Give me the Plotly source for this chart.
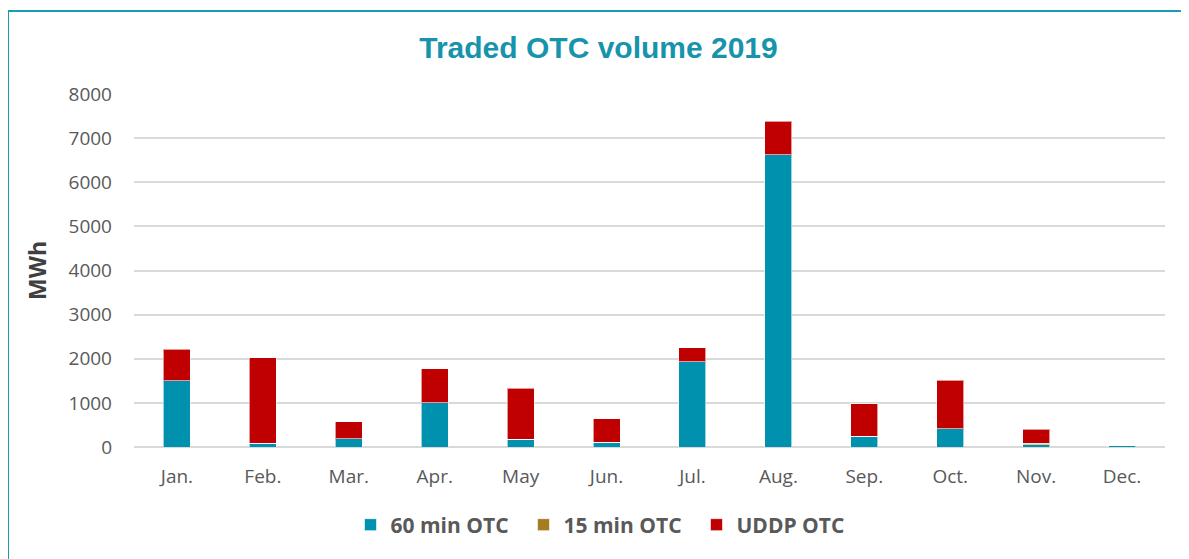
import plotly.graph_objects as go

months = ["Jan.", "Feb.", "Mar.", "Apr.", "May", "Jun.", "Jul.", "Aug.", "Sep.", "Oct.", "Nov.", "Dec."]
otc_60 = [1500, 90, 190, 1000, 175, 105, 1935, 6620, 240, 410, 50, 25]
otc_15 = [0, 0, 0, 0, 0, 0, 0, 0, 0, 0, 30, 0]
uddp = [720, 1930, 380, 770, 1155, 530, 310, 765, 740, 1100, 320, 0]

series = [
    ("60 min OTC", otc_60, "#0091AE"),
    ("15 min OTC", otc_15, "#A57C20"),
    ("UDDP OTC", uddp, "#C00000"),
]

fig = go.Figure()
for name, vals, col in series:
    fig.add_trace(go.Bar(
        x=months, y=vals, name=name,
        marker=dict(color=col, line=dict(color="rgba(255,255,255,0.6)", width=1)),
    ))

# page is offset 8px by the body margin; work in figure pixel coords
OFF = 8
W, H = 1189 - OFF, 559 - OFF
L, R, T, B = 134 - OFF, 24, 94 - OFF, 112
pw, ph = W - L - R, H - T - B

def px_x(p):
    return (p - OFF - L) / pw

def px_y(p):
    return (H - B - (p - OFF)) / ph

fig.add_shape(type="rect", xref="paper", yref="paper",
              x0=px_x(8), x1=px_x(1400), y0=px_y(11), y1=px_y(800),
              line=dict(color="#1A9BB2", width=2), fillcolor="rgba(0,0,0,0)", layer="below")

fig.update_layout(
    width=W, height=H,
    barmode="stack",
    bargap=0.685,
    paper_bgcolor="white",
    plot_bgcolor="white",
    margin=dict(l=L, r=R, t=T, b=B),
    title=dict(text="<b>Traded OTC volume 2019</b>", x=0.5, xanchor="center",
               y=1 - (47 - OFF) / H, yanchor="middle",
               font=dict(family="Liberation Sans, Arial", size=30, color="#1794AC")),
    font=dict(family="Open Sans", color="#595959", size=19),
    legend=dict(orientation="h", x=px_x(610), xanchor="center", y=px_y(525), yanchor="middle",
                font=dict(family="Open Sans", size=21, color="#595959", weight="bold"),
                itemwidth=30, entrywidth=128, entrywidthmode="pixels", traceorder="normal"),
    xaxis=dict(showgrid=False, showline=False, ticks="", tickfont=dict(size=19),
               ticklabelstandoff=16),
    yaxis=dict(range=[0, 8000], dtick=1000, showgrid=True, gridcolor="#D9D9D9", gridwidth=1.5,
               zeroline=True, zerolinecolor="#D9D9D9", zerolinewidth=2,
               tickfont=dict(size=19), ticklabelstandoff=21,
               title=dict(text="<b>MWh</b>", font=dict(size=23, color="#404040"), standoff=15)),
)

fig.write_html("out.html")
